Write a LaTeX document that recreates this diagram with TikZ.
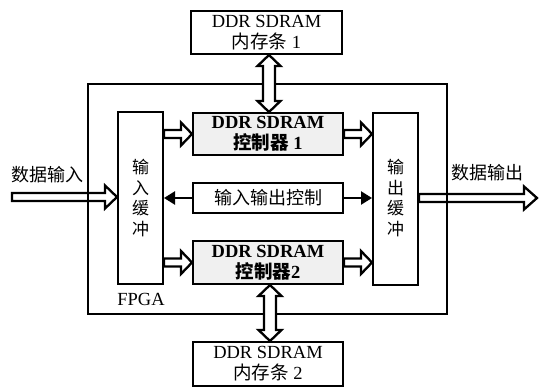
\documentclass[tikz,border=0pt]{standalone}
\usepackage{fontspec}
\setmainfont{Liberation Serif}
\newfontfamily\cjk{Noto Sans CJK SC}
\usetikzlibrary{calc,arrows.meta}
% hollow right-pointing arrow: #1 start, #2 end, #3 shaft half width, #4 head half width, #5 head length
\newcommand\hollowR[5]{\draw[hol] let \p1=#1, \p2=#2 in
  (\x1,\y1+#3) -- (\x2-#5,\y1+#3) -- (\x2-#5,\y1+#4) -- (\x2,\y1) -- (\x2-#5,\y1-#4)
  -- (\x2-#5,\y1-#3) -- (\x1,\y1-#3) -- cycle;}
% hollow vertical double-headed arrow: #1 top point, #2 bottom point
\newcommand\hollowV[5]{\draw[hol,fill=white] let \p1=#1, \p2=#2 in
  (\x1,\y1) -- (\x1+#4,\y1-#5) -- (\x1+#3,\y1-#5) -- (\x1+#3,\y2+#5) -- (\x1+#4,\y2+#5)
  -- (\x1,\y2) -- (\x1-#4,\y2+#5) -- (\x1-#3,\y2+#5) -- (\x1-#3,\y1-#5) -- (\x1-#4,\y1-#5) -- cycle;}
\begin{document}
\begin{tikzpicture}[x=1pt,y=-1pt,
  box/.style={draw,line width=2pt,inner sep=0pt,anchor=north west,align=center,
    font=\fontsize{18.5}{21}\selectfont},
  ctrlbox/.style={box,fill=gray!12,font=\fontsize{18.5}{21}\selectfont\bfseries},
  bufbox/.style={box,font=\cjk\fontsize{17}{20.5}\selectfont},
  hol/.style={draw,line width=2.3pt,line join=miter},
  ioarrow/.style={line width=2.3pt,-{Triangle[length=11pt,width=13pt]}},
  lbl/.style={inner sep=0pt,font=\fontsize{18.5}{21}\selectfont}]
\useasboundingbox (0,0) rectangle (540,387);

\node[draw,line width=2pt,anchor=north west,inner sep=0pt,minimum width=359pt,minimum height=230pt] (fpga) at (87,83) {};
\node[lbl] (fpgalbl) at (141,299) {FPGA};

\node[box,minimum width=151pt,minimum height=43pt] (m1) at (190,10) {DDR SDRAM\\{\cjk 内存条} 1};
\node[box,minimum width=150pt,minimum height=44pt] (m2) at (192,341) {DDR SDRAM\\{\cjk 内存条} 2};

\node[ctrlbox,minimum width=150pt,minimum height=42pt] (c1) at (192,112) {DDR SDRAM\\{\cjk 控制器} 1};
\node[box,minimum width=150pt,minimum height=30pt,font=\cjk\fontsize{18}{21}\selectfont] (io) at (192,182) {输入输出控制};
\node[ctrlbox,minimum width=150pt,minimum height=43pt] (c2) at (192,240) {DDR SDRAM\\{\cjk 控制器}2};

\node[bufbox,minimum width=45pt,minimum height=172pt] (inbuf) at (117,111) {输\\入\\缓\\冲};
\node[bufbox,minimum width=45pt,minimum height=172pt] (outbuf) at (372,112) {\\[-8pt]输\\出\\缓\\冲};

\node[lbl,font=\cjk\fontsize{18}{21}\selectfont] (din) at (47,175) {数据输入};
\node[lbl,font=\cjk\fontsize{18}{21}\selectfont] (dout) at (487,173) {数据输出};

\coordinate (inS) at (12,197);
\coordinate (outE) at (537,198);
\hollowR{(inS)}{(inbuf.west|-inS)}{4pt}{11.5pt}{12pt}
\hollowR{(outbuf.east|-outE)}{(outE)}{4pt}{11.5pt}{13pt}

\hollowR{(inbuf.east|-c1.west)}{(c1.west)}{4pt}{11.5pt}{11pt}
\hollowR{(c1.east)}{(outbuf.west|-c1.east)}{4pt}{11.5pt}{11pt}
\hollowR{(inbuf.east|-c2.west)}{(c2.west)}{4pt}{11.5pt}{11pt}
\hollowR{(c2.east)}{(outbuf.west|-c2.east)}{4pt}{11.5pt}{11pt}

\draw[ioarrow] (io.west) -- (inbuf.east|-io.west);
\draw[ioarrow] (io.east) -- (outbuf.west|-io.east);

\coordinate (v1) at ([xshift=1pt]c1.north);
\coordinate (v2) at ([xshift=2pt]c2.south);
\hollowV{(v1|-m1.south)}{(v1)}{6pt}{11.5pt}{11pt}
\hollowV{(v2)}{(v2|-m2.north)}{6pt}{11.5pt}{11pt}
\end{tikzpicture}
\end{document}
